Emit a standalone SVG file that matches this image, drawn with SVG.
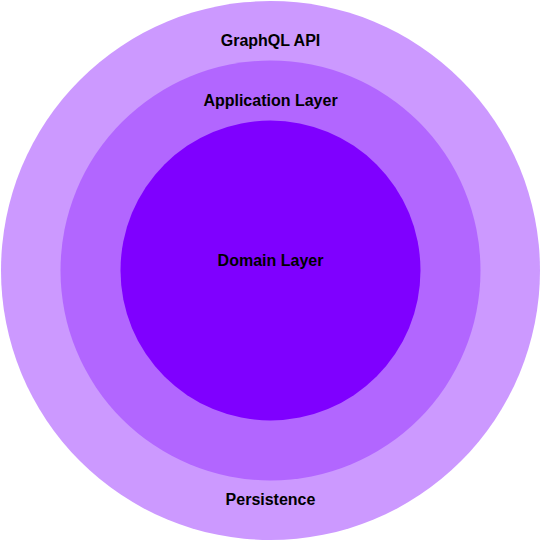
<svg xmlns="http://www.w3.org/2000/svg" width="541" height="541" viewBox="0 0 541 541">
<style>
text{font-family:"Liberation Sans",Arial,sans-serif;font-size:16px;font-weight:bold;fill:#000;text-anchor:middle}
</style>
<rect width="541" height="541" fill="#fff"/>
<g id="graphql-api">
<circle cx="270.5" cy="270.5" r="269.5" fill="#CC99FF"/>
<text x="270.5" y="46">GraphQL API</text>
<text x="270.5" y="505">Persistence</text>
</g>
<g id="application-layer">
<circle cx="270.5" cy="270.5" r="210" fill="#B266FF"/>
<text x="270.5" y="106">Application Layer</text>
</g>
<g id="domain-layer">
<circle cx="270.5" cy="270.5" r="150" fill="#7F00FF"/>
<text x="270.5" y="266">Domain Layer</text>
</g>
<g id="connectors"/>
</svg>
